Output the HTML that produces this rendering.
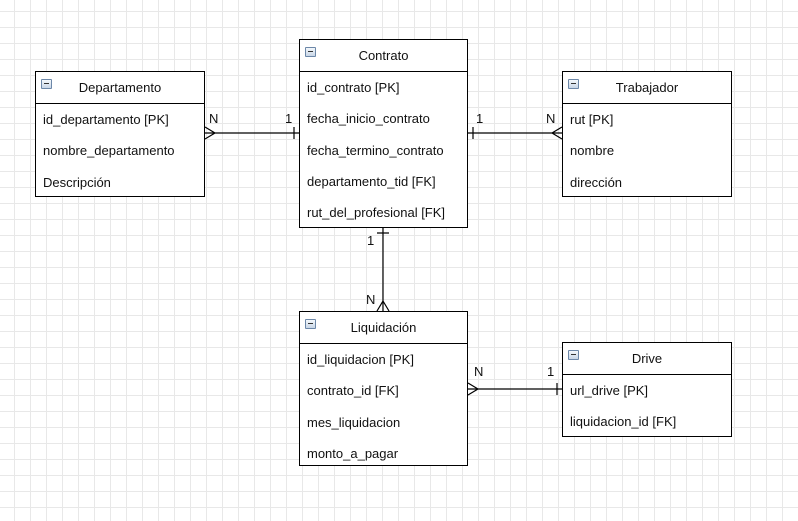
<!DOCTYPE html>
<html><head><meta charset="utf-8"><style>
body{margin:0;width:798px;height:521px;overflow:hidden;background:#fff;
background-image:linear-gradient(#e8e8e8 1px,transparent 1px),linear-gradient(90deg,#e8e8e8 1px,transparent 1px);
background-size:16px 16px;background-position:14px 11px;font-family:"Liberation Sans",sans-serif;font-size:13px;color:#111;position:relative}
.t{position:absolute;background:#fff;border:1px solid #000;box-sizing:border-box}
.h{height:31px;border-bottom:1px solid #000;text-align:center;line-height:31px;position:relative}
.h:before{content:"";position:absolute;left:5px;top:7px;width:9px;height:8px;border:1px solid #6c87a8;background:linear-gradient(#f4f8fc,#c8d6e6);border-radius:1px}
.h:after{content:"";position:absolute;left:8px;top:11px;width:5px;height:1px;background:#333}
.r{height:31.3px;line-height:31px;padding-left:7px;white-space:nowrap}
svg{position:absolute;left:0;top:0}
.l{position:absolute;font-size:13px}
</style></head><body>
<div class="t" style="left:35px;top:71px;width:170px;height:126px"><div class="h">Departamento</div><div class="r">id_departamento [PK]</div><div class="r">nombre_departamento</div><div class="r">Descripción</div></div>
<div class="t" style="left:299px;top:39px;width:169px;height:189px"><div class="h">Contrato</div><div class="r">id_contrato [PK]</div><div class="r">fecha_inicio_contrato</div><div class="r">fecha_termino_contrato</div><div class="r">departamento_tid [FK]</div><div class="r">rut_del_profesional [FK]</div></div>
<div class="t" style="left:562px;top:71px;width:170px;height:126px"><div class="h">Trabajador</div><div class="r">rut [PK]</div><div class="r">nombre</div><div class="r">dirección</div></div>
<div class="t" style="left:299px;top:311px;width:169px;height:155px"><div class="h">Liquidación</div><div class="r">id_liquidacion [PK]</div><div class="r">contrato_id [FK]</div><div class="r">mes_liquidacion</div><div class="r">monto_a_pagar</div></div>
<div class="t" style="left:562px;top:342px;width:170px;height:95px"><div class="h">Drive</div><div class="r">url_drive [PK]</div><div class="r">liquidacion_id [FK]</div></div>
<svg width="798" height="521" fill="none" stroke="#000" stroke-width="1.2">
<path d="M205 133H299M205 127L215 133L205 139M294 127V139"/>
<path d="M468 133H562M562 127L552 133L562 139M473 127V139"/>
<path d="M383 228V311M377 233H389M377 311L383 301L389 311"/>
<path d="M468 389H562M468 383L478 389L468 395M557 383V395"/>
</svg>
<div class="l" style="left:209px;top:111px">N</div>
<div class="l" style="left:285px;top:111px">1</div>
<div class="l" style="left:476px;top:111px">1</div>
<div class="l" style="left:546px;top:111px">N</div>
<div class="l" style="left:367px;top:233px">1</div>
<div class="l" style="left:366px;top:292px">N</div>
<div class="l" style="left:474px;top:364px">N</div>
<div class="l" style="left:547px;top:364px">1</div>
</body></html>
